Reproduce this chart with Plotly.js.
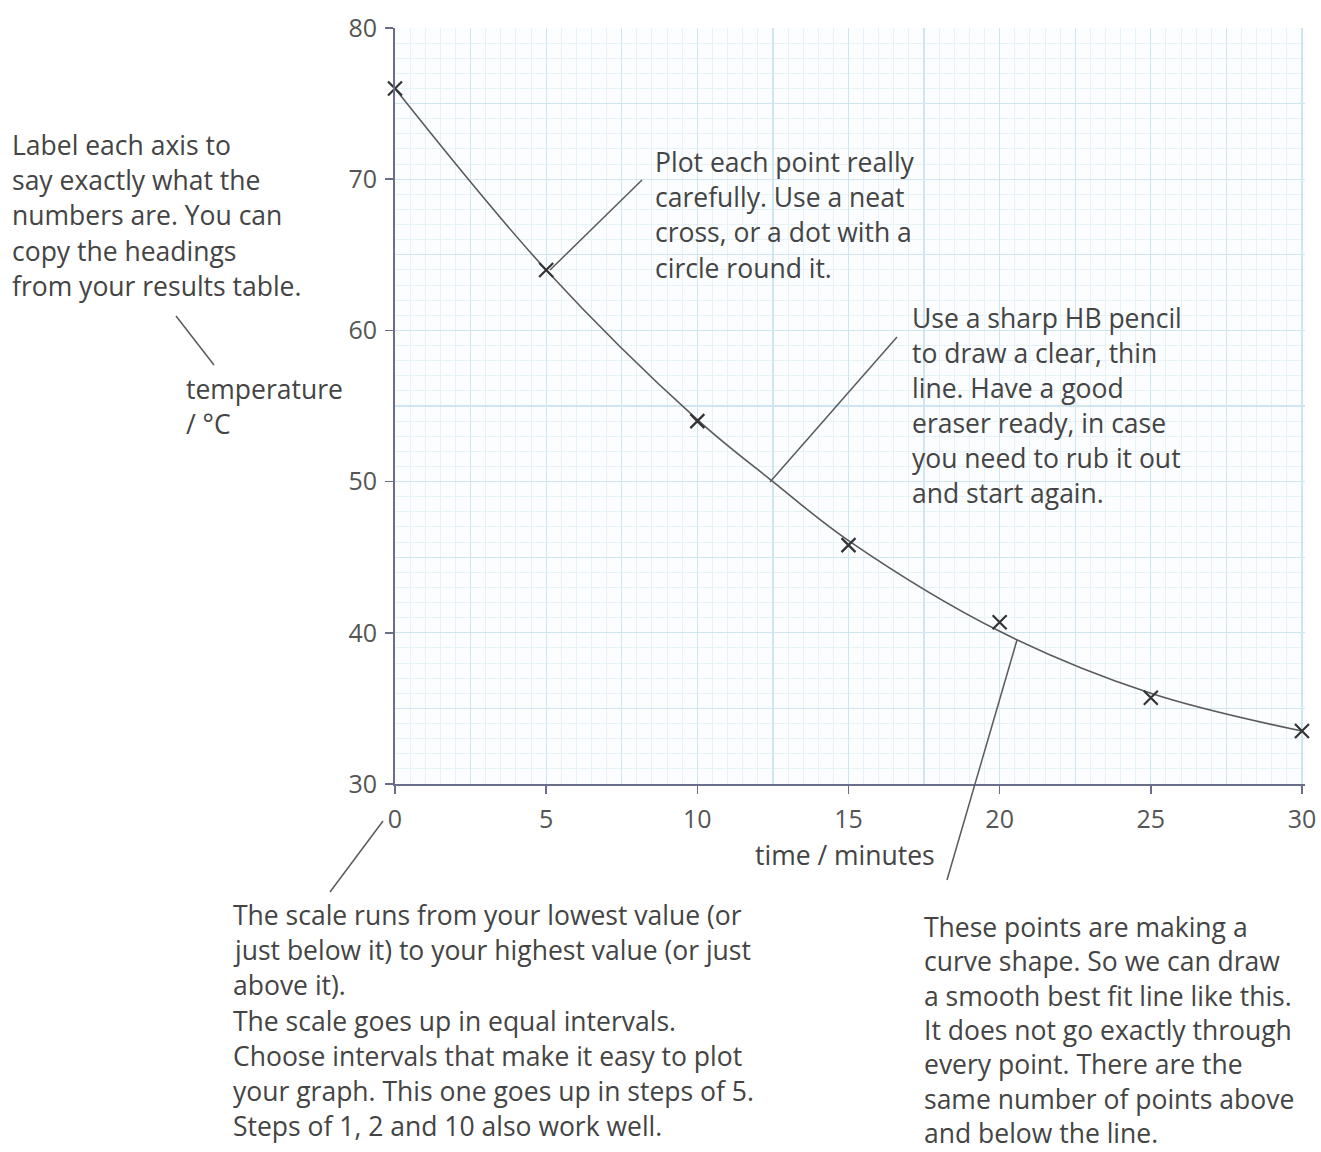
<!DOCTYPE html>
<html>
<head>
<meta charset="utf-8">
<script src="https://cdn.plot.ly/plotly-3.0.1.min.js"></script>
<style>html,body{margin:0;padding:0;background:#fff;}#chart{width:1321px;height:1152px;}</style>
</head>
<body>
<div id="chart"></div>
<script>
// Data
const timeMinutes = [0, 5, 10, 15, 20, 25, 30];
const temperatureC = [76, 64, 54, 45.8, 40.7, 35.7, 33.5];
// best-fit curve values read at the same times
const fitTimes = [0, 5, 10, 12.5, 15, 20, 25, 30];
const fitTemps = [76, 64, 54.1, 50, 46.1, 40.1, 36, 33.5];
const xTickVals = [0, 5, 10, 15, 20, 25, 30];
const xTickText = ['0', '5', '10', '15', '20', '25', '30'];
const yTickVals = [30, 40, 50, 60, 70, 80];
const yTickText = ['30', '40', '50', '60', '70', '80'];

const W = 1321, H = 1152;
const L = 395, R = 1305, T = 28, B = 784;
const px = x => (x - L) / (R - L);
const py = y => (B - y) / (B - T);

const FONT = '"Open Sans", Lato, sans-serif';
const TXT = '#444';
const FS = 26.5;
const annotations = [];
function block(lines, x, y0, dy, size) {
  lines.forEach((t, i) => {
    annotations.push({
      text: t, xref: 'paper', yref: 'paper', x: px(x), y: py(y0 + i * dy),
      xanchor: 'left', yanchor: 'middle', showarrow: false,
      font: {family: FONT, size: size || FS, color: TXT}
    });
  });
}
block(['Label each axis to', 'say exactly what the', 'numbers are. You can', 'copy the headings', 'from your results table.'], 10, 145, 35.2);
block(['temperature', '/ °C'], 184, 389, 34.5);
block(['Plot each point really', 'carefully. Use a neat', 'cross, or a dot with a', 'circle round it.'], 653, 162, 35.2);
block(['Use a sharp HB pencil', 'to draw a clear, thin', 'line. Have a good', 'eraser ready, in case', 'you need to rub it out', 'and start again.'], 910, 318, 35.0);
block(['The scale runs from your lowest value (or', 'just below it) to your highest value (or just', 'above it).', 'The scale goes up in equal intervals.', 'Choose intervals that make it easy to plot', 'your graph. This one goes up in steps of 5.', 'Steps of 1, 2 and 10 also work well.'], 231, 915, 35.2);
block(['These points are making a', 'curve shape. So we can draw', 'a smooth best fit line like this.', 'It does not go exactly through', 'every point. There are the', 'same number of points above', 'and below the line.'], 922, 927, 34.3);
annotations.push({text: 'time / minutes', xref: 'paper', yref: 'paper', x: px(845), y: py(855),
  xanchor: 'center', yanchor: 'middle', showarrow: false, font: {family: FONT, size: FS, color: TXT}});

function seg(x0, y0, x1, y1) {
  return {type: 'line', xref: 'paper', yref: 'paper', x0: px(x0), y0: py(y0), x1: px(x1), y1: py(y1),
    line: {color: '#5a5a5a', width: 1.5}, layer: 'above'};
}
const shapes = [
  seg(176, 316, 214, 365),
  seg(642, 180, 550, 270),
  seg(897, 337, 770, 482),
  seg(383, 821, 330, 892),
  seg(1017, 640, 947, 880)
];

const traces = [
  {x: fitTimes, y: fitTemps, type: 'scatter', mode: 'lines', line: {shape: 'spline', smoothing: 1, color: '#5a5a5a', width: 1.6}, hoverinfo: 'skip'},
  {x: timeMinutes, y: temperatureC, type: 'scatter', mode: 'markers', cliponaxis: false, marker: {symbol: 'x-thin-open', size: 14, line: {width: 2.2, color: '#333'}, color: '#333'}},
  {x: timeMinutes, y: temperatureC, xaxis: 'x2', yaxis: 'y2', type: 'scatter', mode: 'markers', marker: {opacity: 0}, hoverinfo: 'skip'}
];

const axisCommon = {zeroline: false, fixedrange: true};
const layout = {
  width: W, height: H, showlegend: false,
  paper_bgcolor: '#fff', plot_bgcolor: '#fbfdfe',
  margin: {l: L, r: W - R, t: T, b: H - B, pad: 0},
  font: {family: FONT, color: '#555'},
  xaxis: Object.assign({}, axisCommon, {
    range: [0, 30.1], tickvals: xTickVals, ticktext: xTickText,
    ticks: 'outside', ticklen: 8, tickwidth: 1.5, tickcolor: '#6a6e88',
    showline: true, linecolor: '#6a6e88', linewidth: 2,
    showgrid: false, ticklabelstandoff: 4,
    tickfont: {family: FONT, size: 25, color: '#555'},
    minor: {dtick: 0.5, showgrid: true, gridcolor: '#e7f2f7', gridwidth: 1, ticks: ''}
  }),
  yaxis: Object.assign({}, axisCommon, {
    range: [30, 80], tickvals: yTickVals, ticktext: yTickText,
    ticks: 'outside', ticklen: 8, tickwidth: 1.5, tickcolor: '#6a6e88',
    showline: true, linecolor: '#6a6e88', linewidth: 2,
    showgrid: false, ticklabelstandoff: 3,
    tickfont: {family: FONT, size: 25, color: '#555'},
    minor: {dtick: 1, showgrid: true, gridcolor: '#e7f2f7', gridwidth: 1, ticks: ''}
  }),
  xaxis2: Object.assign({}, axisCommon, {
    overlaying: 'x', range: [0, 30.1], dtick: 2.5, tick0: 0, showticklabels: false, ticks: '',
    showgrid: true, gridcolor: '#cfe6f0', gridwidth: 1.2, showline: false
  }),
  yaxis2: Object.assign({}, axisCommon, {
    overlaying: 'y', range: [30, 80], dtick: 5, tick0: 0, showticklabels: false, ticks: '',
    showgrid: true, gridcolor: '#cfe6f0', gridwidth: 1.2, showline: false
  }),
  annotations: annotations,
  shapes: shapes
};
Plotly.newPlot('chart', traces, layout, {staticPlot: true, displayModeBar: false});
</script>
</body>
</html>
